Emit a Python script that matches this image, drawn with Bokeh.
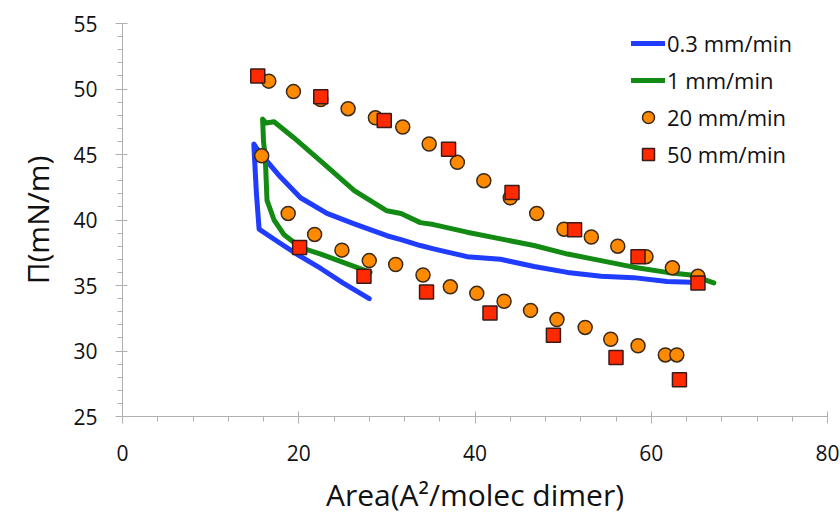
from bokeh.plotting import figure
from bokeh.models import Range1d, Legend, LegendItem, FixedTicker
from bokeh.embed import file_html
from bokeh.resources import INLINE

# 0.3 mm/min isotherm (compression then expansion)
blue_x = [64.5, 61.8, 58.0, 54.3, 50.5, 46.7, 42.9, 39.1, 35.3, 33.8, 31.6, 30.0, 26.3, 23.2, 20.2, 17.9, 16.0, 15.2, 14.9, 15.0, 15.2, 15.5, 17.5, 20.0, 22.5, 25.0, 28.0]
blue_y = [35.25, 35.3, 35.6, 35.7, 36.0, 36.45, 37.0, 37.2, 37.8, 38.05, 38.5, 38.8, 39.7, 40.5, 41.7, 43.3, 44.8, 45.5, 45.8, 44.5, 42.0, 39.3, 38.4, 37.3, 36.3, 35.2, 34.0]

# 1 mm/min isotherm
green_x = [67.1, 64.5, 61.8, 58.0, 54.3, 50.5, 46.7, 42.9, 39.1, 35.3, 33.8, 31.6, 30.0, 26.3, 22.5, 19.4, 17.2, 16.3, 15.9, 16.0, 16.2, 16.4, 17.2, 18.3, 20.2, 22.5, 25.5, 28.1]
green_y = [35.2, 35.8, 36.0, 36.4, 36.9, 37.4, 38.05, 38.56, 39.07, 39.65, 39.8, 40.5, 40.7, 42.25, 44.5, 46.3, 47.5, 47.4, 47.7, 46.0, 44.8, 41.5, 40.0, 38.9, 37.9, 37.4, 36.65, 36.0]

# 20 mm/min
c20_x = [16.6, 19.4, 22.5, 25.6, 28.7, 31.8, 34.8, 38.0, 41.0, 44.0, 47.0, 50.1, 53.2, 56.2, 59.4, 62.4, 65.3,
         15.8, 18.8, 21.8, 24.9, 28.0, 31.0, 34.1, 37.2, 40.2, 43.3, 46.3, 49.3, 52.5, 55.4, 58.5, 61.6, 62.9]
c20_y = [50.6, 49.8, 49.2, 48.5, 47.8, 47.1, 45.8, 44.4, 43.0, 41.7, 40.5, 39.3, 38.7, 38.0, 37.2, 36.35, 35.7,
         44.9, 40.5, 38.9, 37.7, 36.9, 36.6, 35.8, 34.9, 34.4, 33.8, 33.1, 32.4, 31.8, 30.9, 30.4, 29.7, 29.7]

# 50 mm/min
s50_x = [15.35, 22.5, 29.7, 37.0, 44.2, 51.3, 58.5, 65.3, 63.2, 56.0, 48.9, 41.7, 34.5, 27.4, 20.1]
s50_y = [51.0, 49.4, 47.6, 45.4, 42.1, 39.25, 37.2, 35.2, 27.8, 29.5, 31.2, 32.9, 34.5, 35.7, 37.9]

labels = ["0.3 mm/min", "1 mm/min", "20 mm/min", "50 mm/min"]

FONT = "Open Sans"

p = figure(width=840, height=517, output_backend="svg", toolbar_location=None,
           x_range=Range1d(0, 80), y_range=Range1d(25, 55),
           min_border_left=122, min_border_right=13, min_border_top=23, min_border_bottom=101)
p.outline_line_color = None
p.xgrid.grid_line_color = None
p.ygrid.grid_line_color = None

for ax in (p.xaxis[0], p.yaxis[0]):
    ax.axis_line_color = "#b0b0b0"
    ax.major_tick_line_color = "#b0b0b0"
    ax.minor_tick_line_color = "#b0b0b0"
    ax.major_tick_in = 5
    ax.major_tick_out = 7
    ax.minor_tick_in = 0
    ax.minor_tick_out = 5
    ax.major_label_text_font = FONT
    ax.major_label_text_font_size = "21px"
    ax.major_label_text_color = "#111111"
    ax.axis_label_text_font = FONT
    ax.axis_label_text_font_size = "30px"
    ax.axis_label_text_font_style = "normal"
    ax.axis_label_text_color = "#111111"

p.xaxis.ticker = FixedTicker(ticks=[0, 20, 40, 60, 80], minor_ticks=list(range(0, 81, 4)))
p.yaxis.ticker = FixedTicker(ticks=[25, 30, 35, 40, 45, 50, 55], minor_ticks=list(range(25, 56, 1)))
p.xaxis.axis_label = "Area(A²/molec dimer)"
p.yaxis.axis_label = "Π(mN/m)"
p.xaxis.major_label_standoff = 21
p.xaxis.axis_label_standoff = 10
p.yaxis.major_label_standoff = 18
p.yaxis.axis_label_standoff = 12

r_blue = p.line(blue_x, blue_y, line_color="#1f3cff", line_width=5, line_join="round", line_cap="round")
r_green = p.line(green_x, green_y, line_color="#138a13", line_width=5, line_join="round", line_cap="round")
r_c = p.scatter(c20_x, c20_y, marker="circle", size=14, fill_color="#ff8a00",
                line_color="#3a2a1a", line_width=1.5)
r_s = p.scatter(s50_x, s50_y, marker="square", size=14, fill_color="#ff2a00",
                line_color="#3a1a1a", line_width=1.5)

legend = Legend(items=[LegendItem(label=labels[0], renderers=[r_blue]),
                       LegendItem(label=labels[1], renderers=[r_green]),
                       LegendItem(label=labels[2], renderers=[r_c]),
                       LegendItem(label=labels[3], renderers=[r_s])],
                location="top_right")
legend.border_line_color = None
legend.background_fill_alpha = 0
legend.label_text_font = FONT
legend.label_text_font_size = "22px"
legend.label_text_color = "#111111"
legend.glyph_width = 34
legend.glyph_height = 30
legend.spacing = 7
legend.label_standoff = 2
legend.label_width = 155
legend.margin = 5
legend.padding = 0
p.add_layout(legend)

open("out.html", "w").write(file_html(p, INLINE))
